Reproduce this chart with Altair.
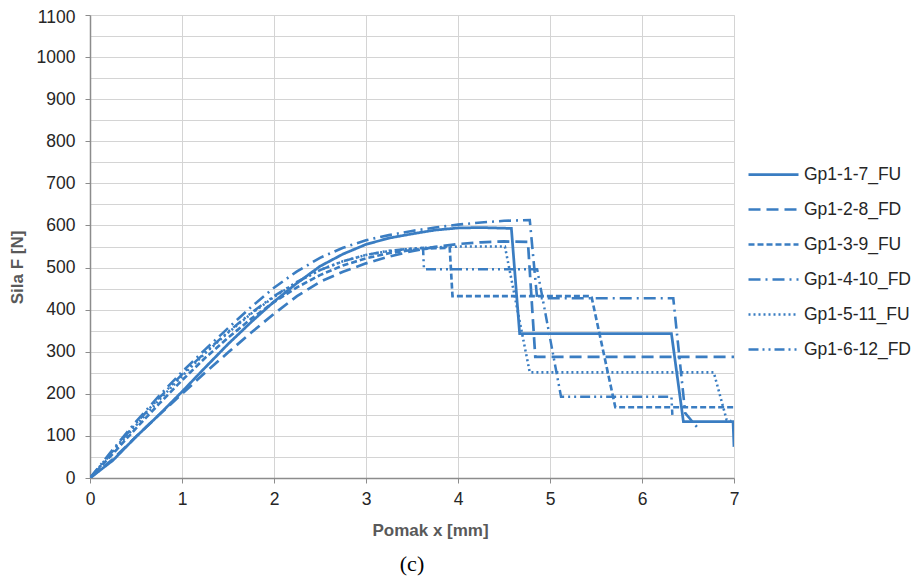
import altair as alt
import pandas as pd

COLOR = "#3a7dc2"

series_names = ["Gp1-1-7_FU", "Gp1-2-8_FD", "Gp1-3-9_FU",
                "Gp1-4-10_FD", "Gp1-5-11_FU", "Gp1-6-12_FD"]

s1_x = [0, 0.25, 0.5, 0.75, 1, 1.25, 1.5, 1.75, 2, 2.25, 2.5, 2.75, 3, 3.25, 3.5, 3.75, 4, 4.25, 4.58, 4.67, 6.32, 6.45, 6.99, 7.0]
s1_y = [0, 42, 98, 150, 205, 262, 318, 370, 419, 463, 503, 532, 555, 570, 580, 589, 594, 595, 593, 343, 343, 134, 134, 74]

s2_x = [0, 0.25, 0.5, 0.75, 1, 1.25, 1.5, 1.75, 2, 2.25, 2.5, 2.75, 3, 3.25, 3.5, 3.75, 4, 4.25, 4.5, 4.76, 4.84, 7.0]
s2_y = [0, 45, 98, 150, 200, 250, 298, 345, 390, 432, 466, 490, 510, 526, 539, 549, 556, 560, 562, 561, 288, 288]

s3_x = [0, 0.25, 0.5, 0.75, 1, 1.25, 1.5, 1.75, 2, 2.25, 2.5, 2.75, 3, 3.25, 3.5, 3.75, 3.91, 3.94, 5.45, 5.71, 7.0]
s3_y = [0, 58, 118, 176, 232, 285, 333, 378, 418, 453, 482, 505, 522, 534, 542, 546, 547, 432, 432, 168, 168]

s4_x = [0, 0.25, 0.5, 0.75, 1, 1.25, 1.5, 1.75, 2, 2.25, 2.5, 2.75, 3, 3.25, 3.5, 3.75, 4, 4.25, 4.5, 4.78, 4.86, 6.34, 6.47, 6.61]
s4_y = [0, 68, 134, 195, 252, 305, 356, 406, 452, 491, 523, 547, 565, 577, 587, 595, 602, 607, 611, 613, 427, 427, 154, 118]

s5_x = [0, 0.25, 0.5, 0.75, 1, 1.25, 1.5, 1.75, 2, 2.25, 2.5, 2.75, 3, 3.25, 3.5, 3.75, 4.05, 4.51, 4.78, 6.78, 6.92, 6.97]
s5_y = [0, 62, 125, 185, 242, 296, 345, 390, 430, 465, 494, 515, 530, 539, 545, 548, 550, 550, 251, 251, 138, 135]

s6_x = [0, 0.25, 0.5, 0.75, 1, 1.25, 1.5, 1.75, 2, 2.25, 2.5, 2.75, 3, 3.25, 3.62, 3.63, 4.86, 5.12, 6.32, 6.33]
s6_y = [0, 65, 130, 190, 246, 298, 347, 392, 432, 466, 494, 515, 530, 540, 547, 496, 496, 193, 193, 150]

dash_styles = [[1, 0], [12, 6], [6, 3], [12, 5, 2, 5], [2, 3], [10, 4, 2, 4, 2, 4]]
line_widths = [2.75, 2.5, 2.5, 2.5, 2.25, 1.5]

x_ticks = [i * 0.5 for i in range(15)]
y_ticks = list(range(0, 1101, 50))

rows = []
for name, xs, ys in zip(series_names,
                        [s1_x, s2_x, s3_x, s4_x, s5_x, s6_x],
                        [s1_y, s2_y, s3_y, s4_y, s5_y, s6_y]):
    for i, (xv, yv) in enumerate(zip(xs, ys)):
        rows.append({"series": name, "x": xv, "y": yv, "i": i})
df = pd.DataFrame(rows)

FONT = "Liberation Sans"

x_axis = alt.Axis(
    values=x_ticks,
    labelExpr="datum.value % 1 === 0 ? datum.label : ''",
    format="d",
    title="Pomak x [mm]",
    titleFont=FONT, titleFontSize=17, titleFontWeight="bold", titleColor="#595959",
    titleX=340, titleY=52, titleBaseline="middle", titleAlign="center",
    labelFont=FONT, labelFontSize=17.5, labelColor="#262626",
    labelPadding=7, labelOverlap=False, labelFlush=False,
    tickSize=5, tickColor="#8c8c8c", tickWidth=1,
    tickOpacity={"condition": {"test": "datum.value % 1 === 0", "value": 1}, "value": 0},
    domainColor="#8c8c8c", domainWidth=1.5,
    grid=True, gridColor="#d4d4d4", gridWidth=1,
)

y_axis = alt.Axis(
    values=y_ticks,
    labelExpr="datum.value % 100 === 0 ? datum.label : ''",
    format="d",
    title="Sila F [N]",
    titleFont=FONT, titleFontSize=17, titleFontWeight="bold", titleColor="#595959",
    titleX=-73, titleY=252, titleAngle=270, titleBaseline="middle", titleAlign="center",
    labelFont=FONT, labelFontSize=17.5, labelColor="#262626",
    labelPadding=10, labelOverlap=False, labelFlush=False,
    labelOffset={"condition": {"test": "datum.value === 1100", "value": 2}, "value": 0},
    tickSize=5, tickColor="#8c8c8c", tickWidth=1,
    tickOpacity={"condition": {"test": "datum.value % 100 === 0", "value": 1}, "value": 0},
    domainColor="#8c8c8c", domainWidth=1.5,
    grid=True, gridColor="#d4d4d4", gridWidth=1,
)

chart = alt.Chart(df).mark_line(color=COLOR, clip=True).encode(
    x=alt.X("x:Q", scale=alt.Scale(domain=[0, 7], nice=False), axis=x_axis),
    y=alt.Y("y:Q", scale=alt.Scale(domain=[0, 1100], nice=False), axis=y_axis),
    strokeDash=alt.StrokeDash(
        "series:N",
        scale=alt.Scale(domain=series_names, range=dash_styles),
        legend=alt.Legend(
            title=None, orient="none", legendX=657, legendY=133,
            symbolType="stroke", symbolSize=2500, symbolStrokeWidth=2.5,
            symbolStrokeColor=COLOR,
            labelFont=FONT, labelFontSize=17.5, labelColor="#262626",
            labelOffset=4, rowPadding=-10.5, padding=0, labelLimit=200,
        ),
    ),
    strokeWidth=alt.StrokeWidth(
        "series:N",
        scale=alt.Scale(domain=series_names, range=line_widths),
        legend=None,
    ),
    order="i:Q",
    detail="series:N",
).properties(
    width=644,
    height=463,
    title=alt.TitleParams(
        "(c)", orient="bottom", anchor="middle", font="Liberation Serif",
        fontSize=22, fontWeight="normal", color="#000000", offset=16,
    ),
    autosize=alt.AutoSizeParams(type="none"),
    padding={"left": 82, "top": 7, "right": 178, "bottom": 101},
).configure_view(stroke=None).configure(background="white")

chart.save("out.html", embed_options={"renderer": "svg", "actions": False})
